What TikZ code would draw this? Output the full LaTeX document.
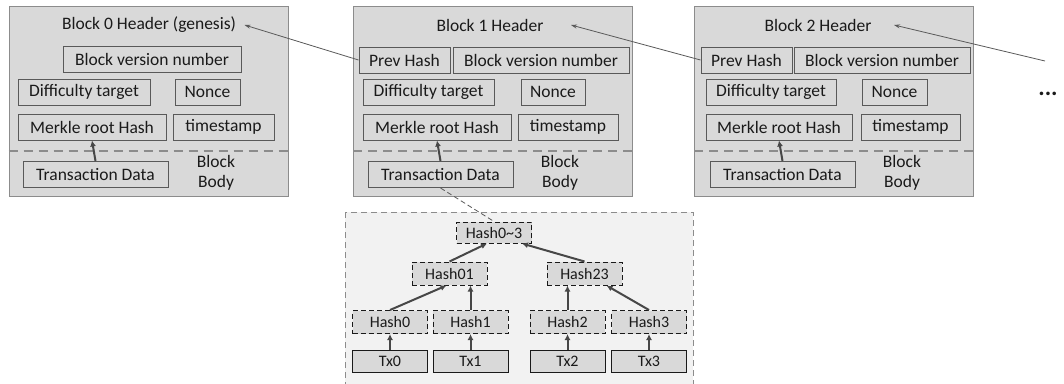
\documentclass[tikz,border=0pt]{standalone}
\usepackage{fontspec}
\setmainfont{Carlito}
\usetikzlibrary{arrows.meta}
\definecolor{blockgray}{HTML}{D9D9D9}
\definecolor{areagray}{HTML}{F2F2F2}
\definecolor{edgegray}{HTML}{8C8C8C}
\definecolor{boxgray}{HTML}{595959}
\definecolor{inkgray}{HTML}{1A1A1A}
\definecolor{arrowgray}{HTML}{474747}

\begin{document}
\begin{tikzpicture}[x=1pt, y=-1pt, text=inkgray,
    font=\fontsize{17.5}{20}\selectfont,
    block/.style={draw=edgegray, fill=blockgray, line width=0.8pt,
      minimum width=279pt, minimum height=190pt},
    field/.style={draw=boxgray, fill=blockgray, line width=1pt,
      minimum height=26pt, inner sep=0pt},
    hash/.style={draw=inkgray, fill=blockgray, line width=1pt,
      dash pattern=on 5pt off 3pt, minimum width=75pt, minimum height=23pt,
      inner sep=0pt, font=\fontsize{16}{18}\selectfont},
    tx/.style={hash, solid, minimum height=22pt},
    split/.style={draw=edgegray, line width=1.2pt, dash pattern=on 9pt off 6pt},
    link/.style={draw=boxgray, line width=0.8pt, -{Stealth[length=6pt,width=4pt]}},
    up/.style={draw=arrowgray, line width=2pt, -{Latex[length=6pt,width=6pt]}}
  ]
    \clip (0,0) rectangle (1064,383);

    % merkle tree area
    \draw[fill=areagray, draw=edgegray, line width=0.8pt, dash pattern=on 6pt off 4pt]
      (345,212) rectangle (693,395);

    % blocks
    \node[block] (block 0) at (148.5,101) {};
    \node[block] (block 1) at (493,101) {};
    \node[block] (block 2) at (834,101) {};
    \draw[split] (block 0.west |- 0,151) -- (block 0.east |- 0,151);
    \draw[split] (block 1.west |- 0,151) -- (block 1.east |- 0,151);
    \draw[split] (block 2.west |- 0,151) -- (block 2.east |- 0,151);

    % block 0
    \node (title 0)  at (149,25)    {Block 0 Header (genesis)};
    \node[field, minimum width=178pt] (version 0) at (152,59.5) {Block version number};
    \node[field, minimum width=132pt] (target 0)  at (84,92)    {Difficulty target};
    \node[field, minimum width=65pt]  (nonce 0)   at (207.5,92) {Nonce};
    \node[field, minimum width=148pt] (merkle 0)  at (92,127)   {Merkle root Hash};
    \node[field, minimum width=101pt] (time 0)    at (223.5,127) {timestamp};
    \node[field, minimum width=145pt] (data 0)    at (95.5,174.5) {Transaction Data};
    \node[align=center] (body 0) at (216,173) {Block\\Body};

    % block 1
    \node (title 1)  at (490,25)    {Block 1 Header};
    \node[field, minimum width=91pt]  (prev 1)    at (404.5,60) {Prev Hash};
    \node[field, minimum width=176pt] (version 1) at (541,60)   {Block version number};
    \node[field, minimum width=131pt] (target 1)  at (428.5,92) {Difficulty target};
    \node[field, minimum width=64pt]  (nonce 1)   at (553,92)   {Nonce};
    \node[field, minimum width=148pt] (merkle 1)  at (437,127)  {Merkle root Hash};
    \node[field, minimum width=100pt] (time 1)    at (568,127)  {timestamp};
    \node[field, minimum width=145pt] (data 1)    at (440.5,174.5) {Transaction Data};
    \node[align=center] (body 1) at (560,173) {Block\\Body};

    % block 2
    \node (title 2)  at (818,25)    {Block 2 Header};
    \node[field, minimum width=91pt]  (prev 2)    at (746.5,60) {Prev Hash};
    \node[field, minimum width=176pt] (version 2) at (882,60)   {Block version number};
    \node[field, minimum width=130pt] (target 2)  at (771,92)   {Difficulty target};
    \node[field, minimum width=65pt]  (nonce 2)   at (894.5,92) {Nonce};
    \node[field, minimum width=146pt] (merkle 2)  at (779,127)  {Merkle root Hash};
    \node[field, minimum width=99pt]  (time 2)    at (910.5,127) {timestamp};
    \node[field, minimum width=145pt] (data 2)    at (782.5,174.5) {Transaction Data};
    \node[align=center] (body 2) at (902,173) {Block\\Body};

    \coordinate (next link) at (1045,61);
    \node[font=\fontsize{24}{24}\selectfont\bfseries] (more) at (1048,94) {...};

    \draw[link] (prev 1.west) -- ([xshift=5pt]title 0.east);
    \draw[link] (prev 2.west) -- ([xshift=24pt]title 1.east);
    \draw[link] (next link) -- ([xshift=19pt]title 2.east);
    \draw[up] (data 0.north) -- (merkle 0.south);
    \draw[up] (data 1.north) -- (merkle 1.south);
    \draw[up] (data 2.north) -- (merkle 2.south);

    % merkle tree
    \node[hash, minimum height=21pt] (hash 03) at (494,232.5) {Hash0\textasciitilde3};
    \node[hash] (hash 01) at (449.5,273.5) {Hash01};
    \node[hash] (hash 23) at (584.5,273.5) {Hash23};
    \node[hash] (hash 0)  at (390,322)   {Hash0};
    \node[hash] (hash 1)  at (470.5,322) {Hash1};
    \node[hash] (hash 2)  at (567.5,322) {Hash2};
    \node[hash] (hash 3)  at (649,322)   {Hash3};
    \node[tx] (tx 0) at (390,361)   {Tx0};
    \node[tx] (tx 1) at (470.5,361) {Tx1};
    \node[tx] (tx 2) at (567.5,361) {Tx2};
    \node[tx] (tx 3) at (649,361)   {Tx3};

    \draw[draw=boxgray, line width=0.8pt, dash pattern=on 5pt off 3pt]
      (data 1.south) -- (hash 03.north);
    \draw[up] (tx 0.north) -- (hash 0.south);
    \draw[up] (tx 1.north) -- (hash 1.south);
    \draw[up] (tx 2.north) -- (hash 2.south);
    \draw[up] (tx 3.north) -- (hash 3.south);
    \draw[up] (hash 0.north) -- ([xshift=-3pt]hash 01.south);
    \draw[up] (hash 1.north) -- (hash 1.north |- hash 01.south);
    \draw[up] (hash 2.north) -- (hash 2.north |- hash 23.south);
    \draw[up] (hash 3.north) -- ([xshift=22pt]hash 23.south);
    \draw[up] (hash 01.north) -- ([xshift=-7pt]hash 03.south);
    \draw[up] (hash 23.north) -- ([xshift=28pt]hash 03.south);
  \end{tikzpicture}
\end{document}
